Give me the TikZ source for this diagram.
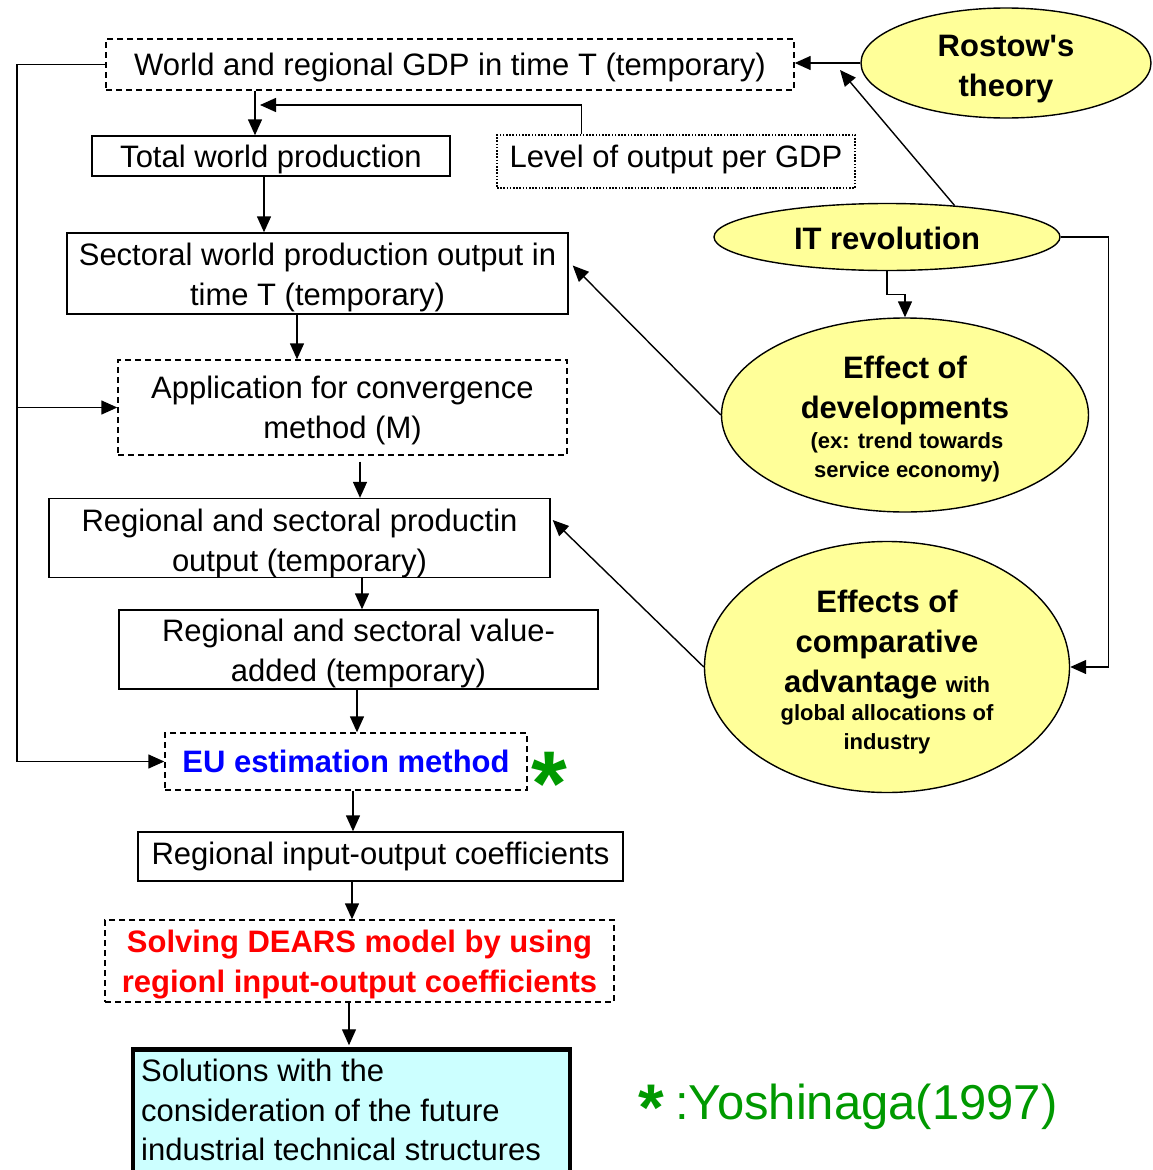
\documentclass[tikz,border=0pt]{standalone}
\usepackage{fontspec}
\setmainfont{Liberation Sans}
\usetikzlibrary{arrows.meta,calc,shapes.geometric}
\definecolor{ylw}{HTML}{FFFF99}
\definecolor{cyn}{HTML}{CCFFFF}
\definecolor{grn}{HTML}{009900}
\newcommand\dropby[1]{\rule{0pt}{#1pt}}
\begin{document}
\begin{tikzpicture}[x=1pt,y=-1pt,
  arr/.style={-{Triangle[length=16pt,width=14pt]}, line width=1.4pt},
  box/.style={draw, line width=1.4pt, inner sep=0pt, align=center, font=\fontsize{31}{40}\selectfont},
  dbox/.style={box, dash pattern=on 6pt off 4pt},
  obox/.style={box, dash pattern=on 1.6pt off 1.6pt, line width=1.3pt},
  ell/.style={ellipse, draw, fill=ylw, line width=1.4pt, inner sep=0pt},
  bigt/.style={inner sep=0pt, align=center, font=\fontsize{31}{40}\selectfont\bfseries},
  smallt/.style={inner sep=0pt, align=center, font=\fontsize{22}{29}\selectfont\bfseries}]
\useasboundingbox (0,0) rectangle (1152,1170);

% boxes
\node[dbox, minimum width=688pt, minimum height=51pt] (gdp) at (450,64.5) {\dropby{28.5}World and regional GDP in time T (temporary)};
\node[box, minimum width=358pt, minimum height=40pt] (total) at (271,156) {\dropby{28.5}Total world production};
\node[obox, minimum width=358pt, minimum height=53pt] (level) at (676,161.5) {Level of output per GDP\rule[-10.5pt]{0pt}{1pt}};
\node[box, minimum width=501pt, minimum height=81pt] (sect) at (317.5,273.5) {\dropby{30.5}Sectoral world production output in\\time T (temporary)};
\node[dbox, minimum width=449pt, minimum height=95pt] (app) at (342.5,407.5) {\dropby{28.5}Application for convergence\\method (M)};
\node[box, minimum width=501pt, minimum height=76pt] (regprod) at (299.5,538) {\dropby{32.5}Regional and sectoral productin\\output (temporary)};
\node[box, minimum width=479pt, minimum height=79pt] (valadd) at (358.5,649.5) {\dropby{30.5}Regional and sectoral value-\\added (temporary)};
\node[dbox, minimum width=362pt, minimum height=57pt, text=blue, font=\fontsize{31}{40}\selectfont\bfseries] (eu) at (346,761.5) {EU estimation method};
\node[box, minimum width=485pt, minimum height=49pt] (regio) at (380.5,856.5) {Regional input-output coefficients};
\node[dbox, minimum width=509pt, minimum height=82pt, text=red, font=\fontsize{31}{40}\selectfont\bfseries] (solve) at (359.5,961) {\dropby{30.5}Solving DEARS model by using\\regionl input-output coefficients};
\node[draw, line width=4.5pt, fill=cyn, inner sep=0pt, minimum width=437pt, minimum height=150pt] (sol) at (351.5,1124.5) {};
\node[anchor=north west, inner sep=0pt, align=left, font=\fontsize{31}{39.5}\selectfont] (soltxt) at (141,1059) {Solutions with the\\consideration of the future\\industrial technical structures};

% ellipses
\node[ell, minimum width=290pt, minimum height=110pt] (rostow) at (1006,63) {};
\node[bigt] (rostowtxt) at (1006,69) {Rostow\textquotesingle s\\theory};
\node[ell, minimum width=346pt, minimum height=67pt] (it) at (887,237) {};
\node[bigt] (ittxt) at (887,238) {IT revolution};
\node[ell, minimum width=367pt, minimum height=194pt] (dev) at (905,415) {};
\node[bigt] (devA) at (905,390.5) {Effect of\\developments};
\node[smallt] (devB) at (907,457) {(ex: trend towards\\service economy)};
\node[ell, minimum width=365pt, minimum height=251pt] (comp) at (887,667) {};
\node[bigt] (compA) at (887,624.5) {Effects of\\comparative};
\node[inner sep=0pt, font=\bfseries] (compB) at (887,685) {\fontsize{31}{40}\selectfont advantage \fontsize{22}{29}\selectfont with};
\node[smallt] (compC) at (887,729.5) {global allocations of\\industry};

% stars and note
\node[anchor=base west, inner sep=0pt, text=grn, font=\fontsize{92}{92}\selectfont\bfseries] (eustar) at (531,815) {*};
\node[anchor=base west, inner sep=0pt, text=grn, font=\fontsize{66}{66}\selectfont\bfseries] (ystar) at (638,1130) {*};
\node[anchor=base west, inner sep=0pt, text=grn, font=\fontsize{49}{52}\selectfont] (yoshi) at (675,1119) {:Yoshinaga(1997)};

% helper coordinates
\coordinate (loopx) at (17,0);
\coordinate (c1) at (255,0);
\coordinate (c2) at (264,0);
\coordinate (c3) at (297,0);
\coordinate (c4) at (360,0);
\coordinate (c5) at (362,0);
\coordinate (c6) at (357,0);
\coordinate (c7) at (353,0);
\coordinate (c8) at (352,0);
\coordinate (c9) at (349,0);
\coordinate (lvlend) at (260,105);
\coordinate (itend) at (840,70);

% connectors
\draw[arr] (rostow.west) -- (rostow.west -| gdp.east);
\draw[arr] (it.25) -- (itend);
\draw[arr] (c1 |- gdp.south) -- (c1 |- total.north);
\draw[arr] ($(level.north west)+(85,0)$) |- (lvlend);
\draw[arr] (c2 |- total.south) -- (c2 |- sect.north);
\draw[arr] (c3 |- sect.south) -- (c3 |- app.north);
\draw[arr] ($(c4 |- app.south)+(0,6)$) -- (c4 |- regprod.north);
\draw[arr] (c5 |- regprod.south) -- (c5 |- valadd.north);
\draw[arr] (c6 |- valadd.south) -- (c6 |- eu.north);
\draw[arr] (c7 |- eu.south) -- (c7 |- regio.north);
\draw[arr] (c8 |- regio.south) -- (c8 |- solve.north);
\draw[arr] (c9 |- solve.south) -- ($(c9 |- sol.north)+(0,-2)$);
\draw[arr] (gdp.west) -- (loopx |- gdp.west) -- (loopx |- eu.west) -- (eu.west);
\draw[arr] (loopx |- app.west) -- (app.west);
\draw[arr] (it.south) -- ++(0,23) -| (dev.north);
\draw[arr] (it.east) -| ($(comp.east)+(38,0)$) -- (comp.east);
\draw[arr] (dev.west) -- ($(sect.east)+(4,-8)$);
\draw[arr] (comp.west) -- ($(regprod.east)+(2,-18)$);
\end{tikzpicture}
\end{document}
